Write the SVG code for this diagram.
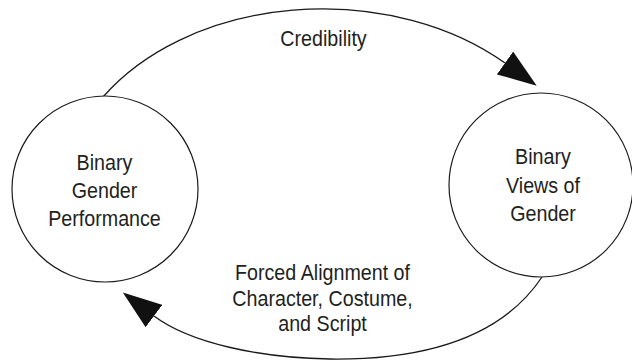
<svg xmlns="http://www.w3.org/2000/svg" width="632" height="360" viewBox="0 0 632 360">
<style>
  .node { fill: #ffffff; stroke: #1a1a1a; stroke-width: 1.2; }
  .edge { fill: none; stroke: #1a1a1a; stroke-width: 1.3; }
  text { font-family: "Liberation Sans", Arial, sans-serif; font-size: 22px; fill: #231f20; text-anchor: middle; }
</style>
<defs>
  <marker id="ah" markerUnits="userSpaceOnUse" markerWidth="40" markerHeight="28" viewBox="0 0 40 28" refX="0" refY="14" orient="auto">
    <path d="M0,0 L39,14 L0,28 z" fill="#111111"/>
  </marker>
</defs>
<rect width="632" height="360" fill="#ffffff"/>
<g id="connectors">
  <path class="edge" d="M103,97 A 260 189 0 0 1 505,63" marker-end="url(#ah)"/>
  <path class="edge" d="M542,277 C500,340 420,360 330,359 C260,358 190,343 154,316" marker-end="url(#ah)"/>
  <text transform="translate(323.5,46) scale(0.895,1)">Credibility</text>
  <text transform="translate(322.5,280) scale(0.895,1)">Forced Alignment of</text>
  <text transform="translate(322.5,306) scale(0.895,1)">Character, Costume,</text>
  <text transform="translate(322.5,331) scale(0.895,1)">and Script</text>
</g>
<g id="node-performance">
  <circle class="node" cx="105" cy="189" r="93"/>
  <text transform="translate(104.5,170) scale(0.895,1)">Binary</text>
  <text transform="translate(104.5,198) scale(0.895,1)">Gender</text>
  <text transform="translate(104.5,226) scale(0.895,1)">Performance</text>
</g>
<g id="node-views">
  <circle class="node" cx="541" cy="185" r="92"/>
  <text transform="translate(543,164) scale(0.895,1)">Binary</text>
  <text transform="translate(543,193) scale(0.895,1)">Views of</text>
  <text transform="translate(543,221) scale(0.895,1)">Gender</text>
</g>
</svg>
